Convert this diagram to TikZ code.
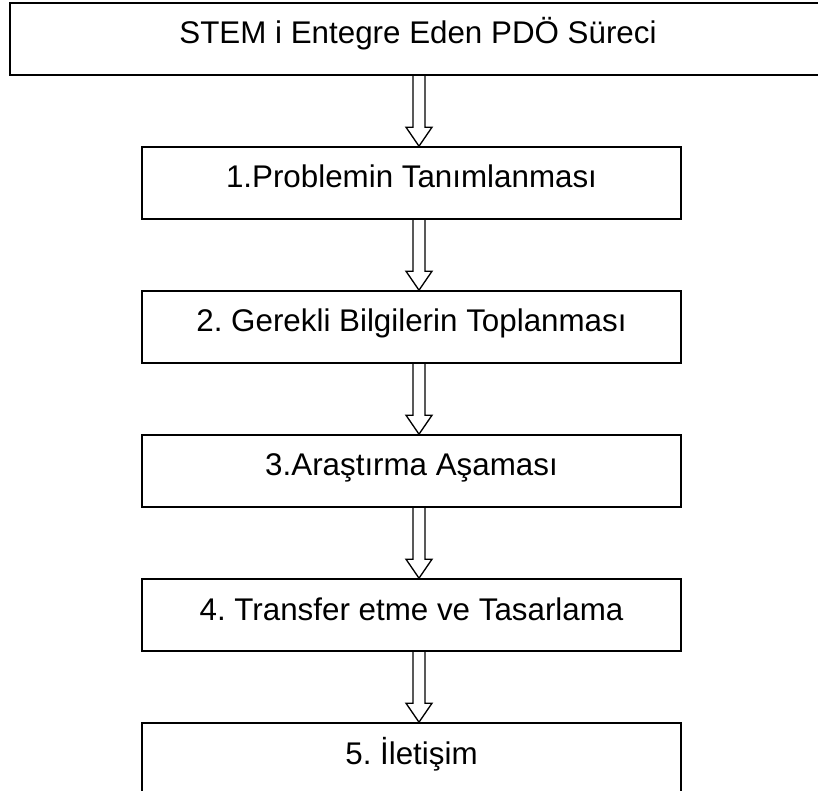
\documentclass[tikz,border=0pt]{standalone}
\usepackage{fontspec}
\setmainfont{Liberation Sans}
\frenchspacing
\usetikzlibrary{calc}
\tikzset{
  kutu/.style={draw, line width=1.2pt, rectangle, inner xsep=0pt, inner ysep=0pt,
    text height=30.75pt, text depth=23.25pt, font=\fontsize{23.5}{28}\selectfont},
  okcizgi/.style={line width=1pt, line join=miter},
}
% hollow down arrow from one box to the next
\newcommand{\okciz}[2]{%
  \coordinate (ust) at (#1.south -| eksen);
  \coordinate (alt) at (#2.north -| eksen);
  \draw[okcizgi] ($(ust)+(-6,0)$) -- ($(alt)+(-6,-19)$) -- ($(alt)+(-13,-19)$) -- (alt)
    -- ($(alt)+(13,-19)$) -- ($(alt)+(6,-19)$) -- ($(ust)+(6,0)$);}

\begin{document}
\begin{tikzpicture}[x=0.75pt, y=-0.75pt] % pixel coordinates, y down
\useasboundingbox (0,0) rectangle (818,791);
\clip (0,0) rectangle (818,791);
\coordinate (eksen) at (419,0);
%%
\node[kutu, minimum width=612pt] (baslik) at (418,39) {STEM i Entegre Eden PDÖ Süreci};
\node[kutu, minimum width=404.25pt] (adim1) at (411.5,183) {1.Problemin Tanımlanması};
\node[kutu, minimum width=404.25pt] (adim2) at (411.5,327) {2. Gerekli Bilgilerin Toplanması};
\node[kutu, minimum width=404.25pt] (adim3) at (411.5,471) {3.Araştırma Aşaması};
\node[kutu, minimum width=404.25pt] (adim4) at (411.5,615) {4. Transfer etme ve Tasarlama};
\node[kutu, minimum width=404.25pt] (adim5) at (411.5,759) {5. İletişim};
%%
\okciz{baslik}{adim1}
\okciz{adim1}{adim2}
\okciz{adim2}{adim3}
\okciz{adim3}{adim4}
\okciz{adim4}{adim5}
\end{tikzpicture}
\end{document}
